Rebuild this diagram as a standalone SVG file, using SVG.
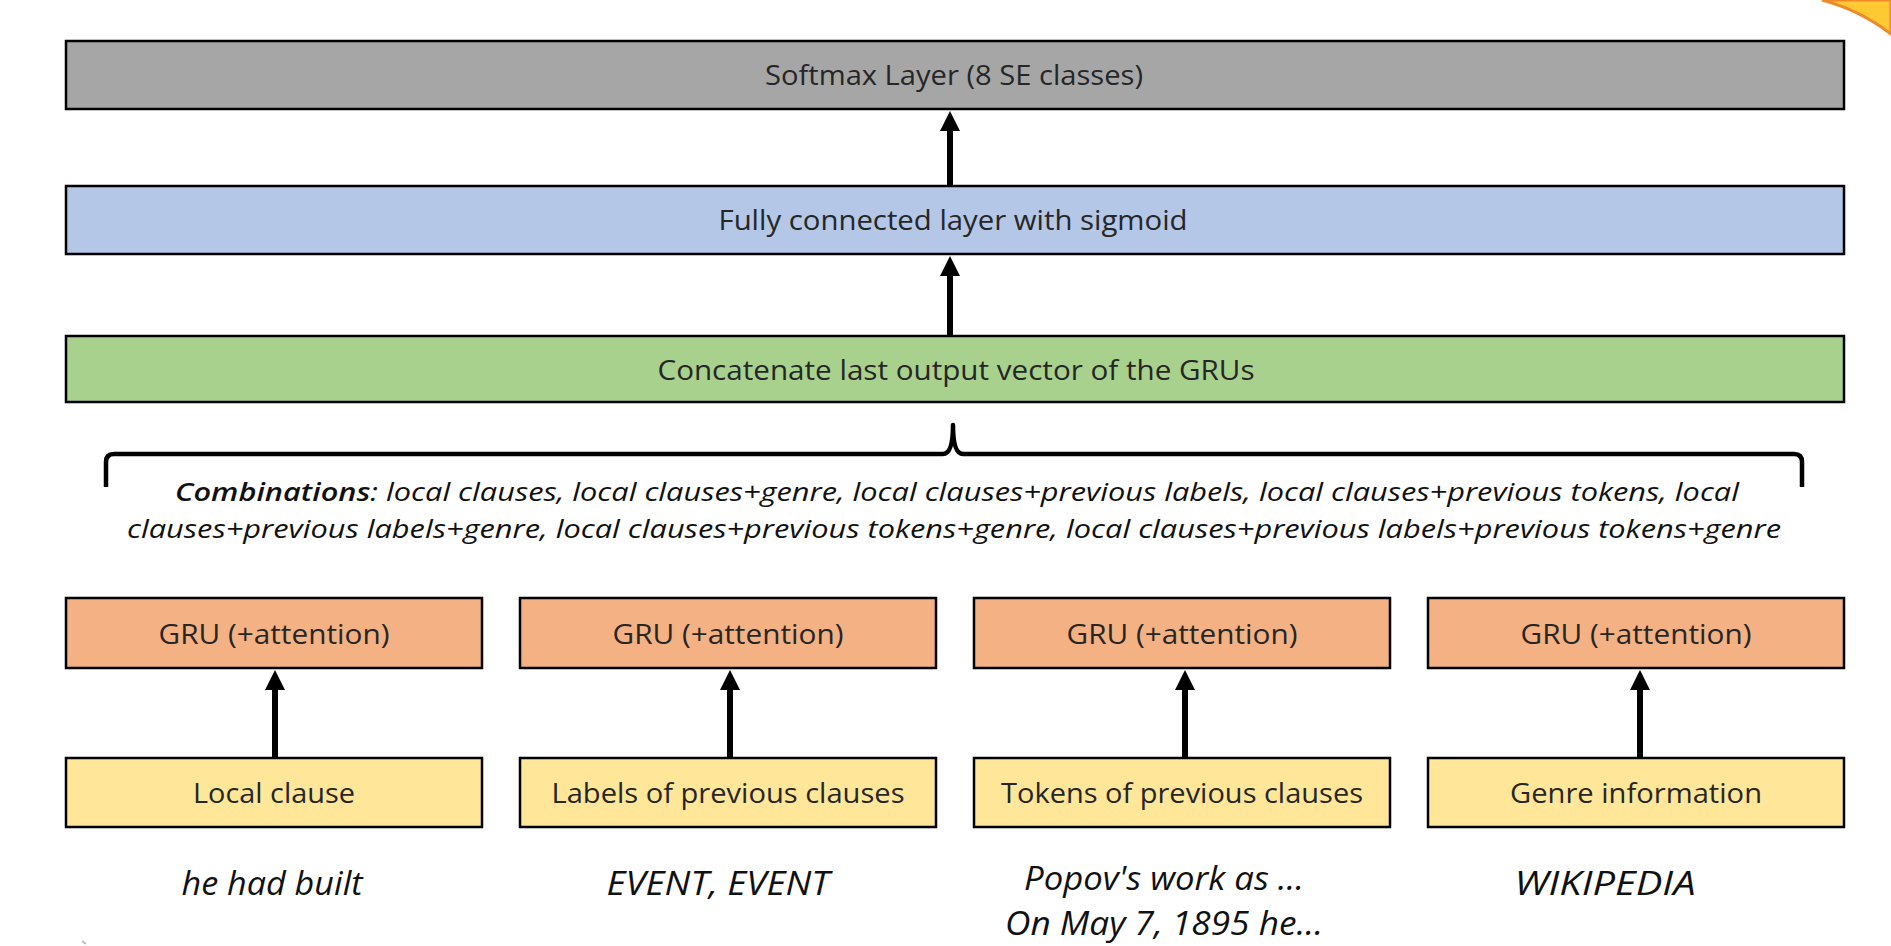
<svg xmlns="http://www.w3.org/2000/svg" width="1891" height="946" viewBox="0 0 1891 946">
<style>
.box{stroke:#000;stroke-width:2.5}
.lbl{font-family:"Open Sans","Liberation Sans",sans-serif;font-size:28px;font-weight:400;fill:#262626;text-anchor:middle}
.it{font-family:"Open Sans","Liberation Sans",sans-serif;font-style:italic;fill:#111;text-anchor:middle}
.conn{stroke:#000;stroke-width:6;fill:none;marker-end:url(#ah)}
</style>
<defs>
<marker id="ah" markerUnits="userSpaceOnUse" viewBox="0 -12 22 24" refX="2" refY="0" markerWidth="22" markerHeight="24" orient="auto">
<path d="M0,-10 L20,0 L0,10 Z" fill="#000"/>
</marker>
</defs>
<rect width="1891" height="946" fill="#fff"/>
<path d="M1822,0 Q1860,10 1891,34 L1891,0 Z" fill="#FFC933" stroke="#F0892A" stroke-width="3"/>
<path d="M82,941 L86,944" stroke="#bbb" stroke-width="2"/>

<g id="softmax"><rect class="box" x="66" y="41" width="1778" height="68" fill="#A6A6A6"/><text class="lbl" x="954" y="85" textLength="378" lengthAdjust="spacingAndGlyphs">Softmax Layer (8 SE classes)</text></g>
<g id="fc"><rect class="box" x="66" y="186" width="1778" height="68" fill="#B4C7E7"/><text class="lbl" x="953" y="230" textLength="469" lengthAdjust="spacingAndGlyphs">Fully connected layer with sigmoid</text></g>
<g id="concat"><rect class="box" x="66" y="336" width="1778" height="66" fill="#A9D18E"/><text class="lbl" x="956" y="380" textLength="597" lengthAdjust="spacingAndGlyphs">Concatenate last output vector of the GRUs</text></g>

<g id="brace"><path d="M106,487 L106,462 Q106,454 114,454 L943,454 Q953,454 953,425 Q953,454 963,454 L1794,454 Q1802,454 1802,462 L1802,487" fill="none" stroke="#000" stroke-width="4.5" stroke-linejoin="round"/></g>
<g id="combinations">
<text class="it" x="957" y="501" font-size="26" font-weight="400" fill="#222" textLength="1564" lengthAdjust="spacingAndGlyphs"><tspan font-weight="600">Combinations</tspan>: local clauses, local clauses+genre, local clauses+previous labels, local clauses+previous tokens, local</text>
<text class="it" x="954" y="538" font-size="26" font-weight="400" fill="#222" textLength="1654" lengthAdjust="spacingAndGlyphs">clauses+previous labels+genre, local clauses+previous tokens+genre, local clauses+previous labels+previous tokens+genre</text>
</g>

<g id="gru1"><rect class="box" x="66" y="598" width="416" height="70" fill="#F4B183"/><text class="lbl" x="274" y="644" textLength="231" lengthAdjust="spacingAndGlyphs">GRU (+attention)</text></g>
<g id="gru2"><rect class="box" x="520" y="598" width="416" height="70" fill="#F4B183"/><text class="lbl" x="728" y="644" textLength="231" lengthAdjust="spacingAndGlyphs">GRU (+attention)</text></g>
<g id="gru3"><rect class="box" x="974" y="598" width="416" height="70" fill="#F4B183"/><text class="lbl" x="1182" y="644" textLength="231" lengthAdjust="spacingAndGlyphs">GRU (+attention)</text></g>
<g id="gru4"><rect class="box" x="1428" y="598" width="416" height="70" fill="#F4B183"/><text class="lbl" x="1636" y="644" textLength="231" lengthAdjust="spacingAndGlyphs">GRU (+attention)</text></g>

<g id="in1"><rect class="box" x="66" y="758" width="416" height="69" fill="#FFE699"/><text class="lbl" x="274" y="803" textLength="162" lengthAdjust="spacingAndGlyphs">Local clause</text></g>
<g id="in2"><rect class="box" x="520" y="758" width="416" height="69" fill="#FFE699"/><text class="lbl" x="728" y="803" textLength="353" lengthAdjust="spacingAndGlyphs">Labels of previous clauses</text></g>
<g id="in3"><rect class="box" x="974" y="758" width="416" height="69" fill="#FFE699"/><text class="lbl" x="1182" y="803" textLength="362" lengthAdjust="spacingAndGlyphs">Tokens of previous clauses</text></g>
<g id="in4"><rect class="box" x="1428" y="758" width="416" height="69" fill="#FFE699"/><text class="lbl" x="1636" y="803" textLength="252" lengthAdjust="spacingAndGlyphs">Genre information</text></g>

<g id="examples">
<text class="it" x="272" y="895" font-size="32" textLength="181" lengthAdjust="spacingAndGlyphs">he had built</text>
<text class="it" x="718" y="895" font-size="32" textLength="223" lengthAdjust="spacingAndGlyphs">EVENT, EVENT</text>
<text class="it" x="1164" y="890" font-size="32" textLength="280" lengthAdjust="spacingAndGlyphs">Popov's work as ...</text>
<text class="it" x="1164" y="935" font-size="32" textLength="318" lengthAdjust="spacingAndGlyphs">On May 7, 1895 he...</text>
<text class="it" x="1605" y="895" font-size="32" textLength="181" lengthAdjust="spacingAndGlyphs">WIKIPEDIA</text>
</g>

<g id="connectors">
<line class="conn" x1="950" y1="186" x2="950" y2="129"/>
<line class="conn" x1="950" y1="336" x2="950" y2="274"/>
<line class="conn" x1="275" y1="758" x2="275" y2="688"/>
<line class="conn" x1="730" y1="758" x2="730" y2="688"/>
<line class="conn" x1="1185" y1="758" x2="1185" y2="688"/>
<line class="conn" x1="1640" y1="758" x2="1640" y2="688"/>
</g>
</svg>
